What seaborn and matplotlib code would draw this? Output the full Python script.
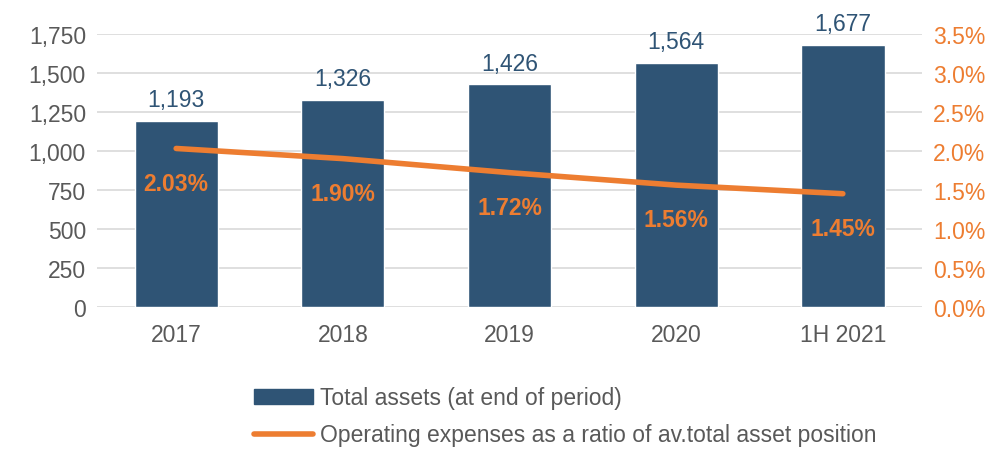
import numpy as np
import pandas as pd
import matplotlib
matplotlib.use("Agg")
import matplotlib.pyplot as plt
import seaborn as sns
from matplotlib.ticker import FuncFormatter, MultipleLocator
from matplotlib.patches import Patch
from matplotlib.lines import Line2D

# Datos
periodos = ["2017", "2018", "2019", "2020", "1H 2021"]
activos_totales = [1193, 1326, 1426, 1564, 1677]
ratio_gastos = [2.03, 1.90, 1.72, 1.56, 1.45]

AZUL = "#2F5475"
NARANJA = "#ED7D31"
GRIS = "#595959"
FS = 16.5

sns.set_theme(style="white")
plt.rcParams["font.family"] = ["Liberation Sans", "DejaVu Sans"]

df = pd.DataFrame({"periodo": periodos, "activos": activos_totales,
                   "ratio": ratio_gastos, "pos": np.arange(len(periodos))})

fig = plt.figure(figsize=(10, 4.52), dpi=100)
ax = fig.add_axes([0.097, 0.319, 0.825, 0.604])

sns.barplot(data=df, x="periodo", y="activos", color=AZUL, width=0.5,
            saturation=1, ax=ax, zorder=2)
ax.set_ylim(0, 1750)
ax.yaxis.set_major_locator(MultipleLocator(250))
ax.yaxis.set_major_formatter(FuncFormatter(lambda v, _: f"{v:,.0f}"))
ax.grid(axis="y", color="#D9D9D9", linewidth=1.2, zorder=0)
ax.set_axisbelow(True)
ax.set_xlabel("")
ax.set_ylabel("")
ax.tick_params(axis="y", labelsize=FS, colors=GRIS, length=0, pad=8)
ax.tick_params(axis="x", labelsize=FS, colors=GRIS, length=0, pad=12)
for s in ax.spines.values():
    s.set_visible(False)

for p, v in zip(ax.patches, activos_totales):
    ax.annotate(f"{v:,}", (p.get_x() + p.get_width() / 2, v),
                xytext=(0, 7), textcoords="offset points",
                ha="center", va="bottom", fontsize=FS, color=AZUL)

ax2 = ax.twinx()
sns.lineplot(data=df, x="pos", y="ratio", color=NARANJA, linewidth=4,
             ax=ax2, zorder=3)
ax2.set_ylim(0, 3.5)
ax2.yaxis.set_major_locator(MultipleLocator(0.5))
ax2.yaxis.set_major_formatter(FuncFormatter(lambda v, _: f"{v:.1f}%"))
ax2.tick_params(axis="y", labelsize=FS, colors=NARANJA, length=0, pad=8)
ax2.set_ylabel("")
ax2.set_xlabel("")
for s in ax2.spines.values():
    s.set_visible(False)
ax2.set_xlim(ax.get_xlim())

for x, v in zip(df["pos"], ratio_gastos):
    ax2.annotate(f"{v:.2f}%", (x, v), xytext=(0, -25), textcoords="offset points",
                 ha="center", va="center", fontsize=FS, fontweight="bold",
                 color=NARANJA)

handles = [Patch(facecolor=AZUL, edgecolor=AZUL),
           Line2D([0], [0], color=NARANJA, linewidth=4)]
labels = ["Total assets (at end of period)",
          "Operating expenses as a ratio of av.total asset position"]
leg = fig.legend(handles, labels, loc="lower center", bbox_to_anchor=(0.565, -0.035),
                 ncol=1, frameon=False, fontsize=FS, handlelength=2.6,
                 handleheight=0.6, handletextpad=0.3, labelspacing=0.6)
for t in leg.get_texts():
    t.set_color(GRIS)

fig.savefig("out.png", dpi=100)
